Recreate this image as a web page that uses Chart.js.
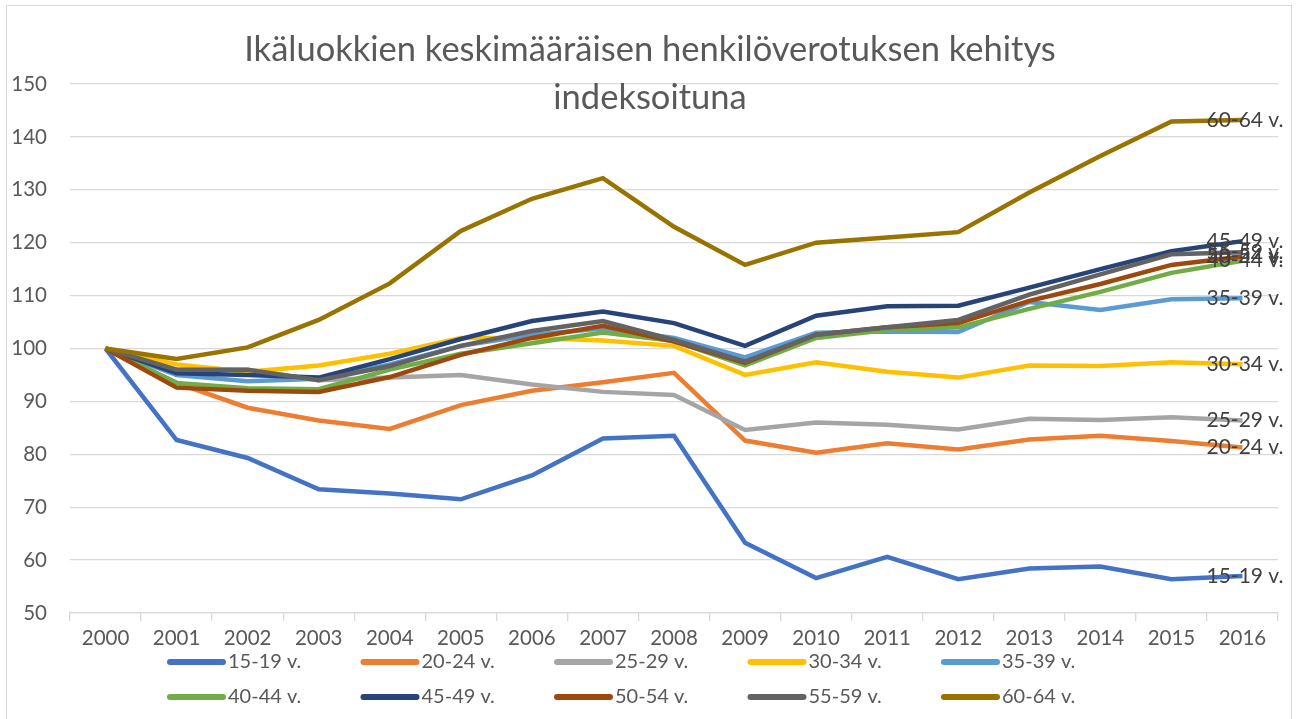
<!DOCTYPE html>
<html>
<head>
<meta charset="utf-8">
<script src="https://cdn.jsdelivr.net/npm/chart.js@4"></script>
<style>
  html, body { margin: 0; padding: 0; background: #fff; }
  #wrap { width: 1298px; height: 719px; }
</style>
</head>
<body>
<div id="wrap"><canvas id="Kehitys" width="1298" height="719"></canvas></div>
<script>
const vuodet = ['2000', '2001', '2002', '2003', '2004', '2005', '2006', '2007', '2008',
    '2009', '2010', '2011', '2012', '2013', '2014', '2015', '2016'];

const ika15_19 = [100, 82.7, 79.3, 73.4, 72.6, 71.5, 76.0, 83.0, 83.5, 63.3, 56.6, 60.6, 56.4, 58.4, 58.8, 56.4, 57.0];
const ika20_24 = [100, 93.5, 88.8, 86.4, 84.8, 89.3, 92.0, 93.6, 95.4, 82.6, 80.3, 82.1, 80.9, 82.8, 83.5, 82.5, 81.3];
const ika25_29 = [100, 96.0, 96.0, 94.0, 94.5, 95.0, 93.2, 91.8, 91.2, 84.6, 86.0, 85.6, 84.7, 86.7, 86.5, 87.0, 86.4];
const ika30_34 = [100, 97.0, 95.6, 96.8, 99.0, 102.0, 102.0, 101.5, 100.5, 95.0, 97.4, 95.6, 94.5, 96.8, 96.7, 97.4, 97.0];
const ika35_39 = [100, 95.0, 93.8, 94.3, 97.0, 100.5, 102.6, 103.8, 102.0, 98.3, 103.0, 103.2, 103.1, 108.8, 107.3, 109.3, 109.5];
const ika40_44 = [100, 93.5, 92.5, 92.3, 96.0, 99.0, 101.0, 103.0, 101.4, 96.8, 102.0, 103.5, 104.0, 107.5, 110.7, 114.3, 116.6];
const ika45_49 = [100, 95.3, 95.0, 94.5, 98.0, 101.8, 105.2, 107.0, 104.8, 100.5, 106.2, 108.0, 108.1, 111.5, 115.0, 118.4, 120.3];
const ika50_54 = [100, 92.6, 92.0, 91.8, 94.6, 98.8, 102.0, 104.3, 101.3, 97.3, 102.6, 104.0, 104.8, 109.0, 112.2, 115.8, 117.4];
const ika55_59 = [100, 96.0, 96.0, 94.0, 96.7, 100.5, 103.3, 105.2, 101.6, 97.5, 102.6, 104.0, 105.4, 110.2, 114.0, 117.8, 118.2];
const ika60_64 = [100, 98.0, 100.2, 105.4, 112.3, 122.2, 128.3, 132.2, 123.0, 115.8, 120.0, 121.0, 122.0, 129.5, 136.4, 142.9, 143.2];

const sarjat = ['15-19 v.', '20-24 v.', '25-29 v.', '30-34 v.', '35-39 v.',
    '40-44 v.', '45-49 v.', '50-54 v.', '55-59 v.', '60-64 v.'];
const arvot = [ika15_19, ika20_24, ika25_29, ika30_34, ika35_39,
    ika40_44, ika45_49, ika50_54, ika55_59, ika60_64];
const varit = ['#4472C4', '#ED7D31', '#A5A5A5', '#FFC000', '#5B9BD5',
    '#70AD47', '#264478', '#9E480E', '#636363', '#997300'];

const otsikko = ['Ikäluokkien keskimääräisen henkilöverotuksen kehitys', 'indeksoituna'];
const fontti = 'Lato, "Open Sans", sans-serif';

// otsikko, loppuselitteet, selite ja reunus piirretään itse
const omaPiirto = {
    id: 'omaPiirto',
    afterDatasetsDraw(chart) {
        const c = chart.ctx;
        c.save();

        // loppuselitteet viimeisen pisteen kohdalle
        c.font = '21px ' + fontti;
        c.fillStyle = '#404040';
        c.textAlign = 'left';
        c.textBaseline = 'middle';
        chart.data.datasets.forEach((ds, i) => {
            const meta = chart.getDatasetMeta(i);
            const p = meta.data[meta.data.length - 1];
            c.fillText(ds.label, p.x - 36, p.y);
        });

        // otsikko
        c.font = '34.5px ' + fontti;
        c.fillStyle = '#595959';
        c.textAlign = 'center';
        c.fillText(otsikko[0], 650, 50);
        c.fillText(otsikko[1], 650, 98);

        // selite kahdessa rivissä
        c.font = '20px ' + fontti;
        c.textAlign = 'left';
        chart.data.datasets.forEach((ds, i) => {
            const x = 168 + (i % 5) * 193.5;
            const y = i < 5 ? 662 : 697;
            c.strokeStyle = ds.borderColor;
            c.lineWidth = 6;
            c.lineCap = 'round';
            c.beginPath();
            c.moveTo(x + 2, y);
            c.lineTo(x + 55, y);
            c.stroke();
            c.fillStyle = '#595959';
            c.fillText(ds.label, x + 60, y);
        });

        // reunus
        c.strokeStyle = '#D9D9D9';
        c.lineWidth = 1;
        c.strokeRect(6.5, 5.5, 1285, 720);
        c.restore();
    }
};

new Chart(document.getElementById('Kehitys'), {
    type: 'line',
    data: {
        labels: vuodet,
        datasets: sarjat.map((nimi, i) => ({
            label: nimi,
            data: arvot[i],
            borderColor: varit[i],
            backgroundColor: varit[i],
            borderWidth: 4.5,
            pointRadius: 0,
            tension: 0,
            order: 9 - i
        }))
    },
    options: {
        responsive: false,
        animation: false,
        layout: { padding: { top: 84, left: 8, right: 20, bottom: 71 } },
        plugins: {
            legend: { display: false },
            title: { display: false },
            tooltip: { enabled: false }
        },
        scales: {
            x: {
                offset: true,
                afterFit(scale) { scale.height = 35; },
                grid: {
                    offset: true,
                    drawOnChartArea: false,
                    drawTicks: true,
                    tickLength: 8,
                    color: '#D9D9D9',
                    lineWidth: 1.3
                },
                border: { display: true, color: '#D9D9D9', width: 1.3 },
                ticks: {
                    color: '#595959',
                    font: { family: fontti, size: 20.5 },
                    padding: 5,
                    maxRotation: 0,
                    autoSkip: false
                }
            },
            y: {
                min: 50,
                max: 150,
                afterFit(scale) { scale.width = 62; },
                grid: { color: '#D9D9D9', lineWidth: 1.3, drawTicks: false },
                border: { display: false },
                ticks: {
                    stepSize: 10,
                    color: '#595959',
                    font: { family: fontti, size: 20.5 },
                    padding: 23
                }
            }
        }
    },
    plugins: [omaPiirto]
});
</script>
</body>
</html>
